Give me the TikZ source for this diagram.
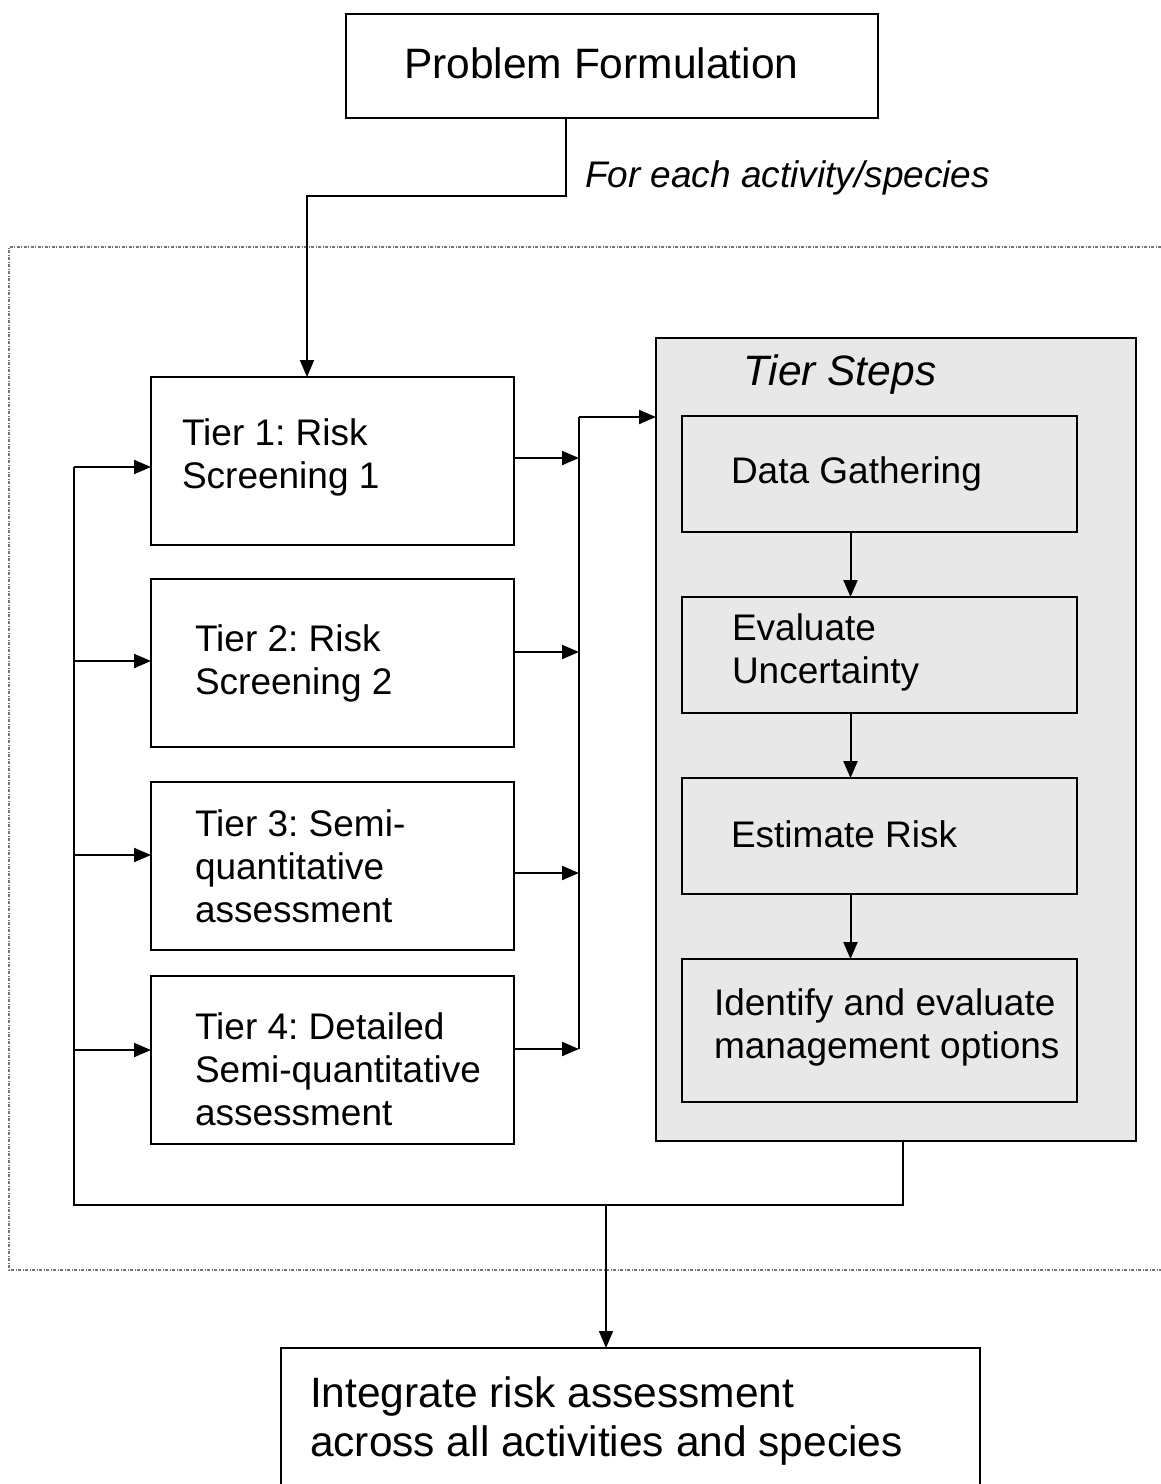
\documentclass[tikz,border=0pt]{standalone}
\usepackage{fontspec}
\setmainfont{Liberation Sans}
\usepackage{xcolor}
\usepackage{tikz}
\usetikzlibrary{arrows.meta}
\usetikzlibrary{positioning}
\definecolor{stepfill}{RGB}{232,232,232}
\frenchspacing

\begin{document}
\begin{tikzpicture}[
    x=1pt,y=-1pt, % one unit is one pixel of the original, y points down
    outer sep=0pt,node distance=0pt,
    mybox/.style={draw,line width=2pt,rectangle,inner sep=0pt},
    tierbox/.style={mybox,minimum width=363pt,minimum height=168pt},
    stepbox/.style={mybox,fill=stepfill,minimum width=395pt,minimum height=116pt},
    txt/.style={align=left,inner sep=0pt,font=\fontsize{37}{43}\selectfont},
    bigtxt/.style={align=left,inner sep=0pt,font=\fontsize{42.5}{49}\selectfont},
    wire/.style={line width=2pt},
    link/.style={wire,-{Triangle[length=17pt,width=14pt]}},
    ]
    \useasboundingbox (0,0) rectangle (1161,1484);

    % dash-dot frame, open on the right
    \draw [black!55,line width=1.2pt,dash pattern=on 3pt off 1.5pt on 1pt off 1.5pt]
        (1175,247) -- (9,247) -- (9,1270) -- (1175,1270);

    \node (problem)    [mybox,minimum width=532pt,minimum height=104pt] at (612,66) {};
    \node (problemtxt) [bigtxt,right=58pt of problem.west,yshift=3pt] {Problem Formulation};

    \node (tier1) [tierbox] at (332.5,461) {};
    \node (tier2) [tierbox,below=34pt of tier1] {};
    \node (tier3) [tierbox,below=35pt of tier2] {};
    \node (tier4) [tierbox,below=26pt of tier3] {};
    \node (tier1txt) [txt,right=31pt of tier1.west,yshift=4pt]  {Tier 1: Risk\\Screening 1};
    \node (tier2txt) [txt,right=44pt of tier2.west]             {Tier 2: Risk\\Screening 2};
    \node (tier3txt) [txt,right=44pt of tier3.west]             {Tier 3: Semi-\\quantitative\\assessment};
    \node (tier4txt) [txt,right=44pt of tier4.west,yshift=-9pt] {Tier 4: Detailed\\Semi-quantitative\\assessment};

    \node (steps) [mybox,fill=stepfill,minimum width=480pt,minimum height=803pt] at (896,739.5) {};
    \node (stepstitle) [bigtxt,font=\fontsize{42.5}{49}\selectfont\itshape,anchor=base west]
        at ([xshift=87pt,yshift=-47pt]steps.north west) {Tier Steps};

    \node (data)   [stepbox] at (879.5,474) {};
    \node (uncert) [stepbox,below=65pt of data] {};
    \node (estim)  [stepbox,below=65pt of uncert] {};
    \node (manage) [stepbox,minimum height=143pt,below=65pt of estim] {};
    \node (datatxt)   [txt,right=49pt of data.west]               {Data Gathering};
    \node (uncerttxt) [txt,right=50pt of uncert.west,yshift=3pt]  {Evaluate\\Uncertainty};
    \node (estimtxt)  [txt,right=49pt of estim.west,yshift=2pt]   {Estimate Risk};
    \node (managetxt) [txt,right=32pt of manage.west,yshift=3pt]  {Identify and evaluate\\management options};

    \node (integrate) [mybox,minimum width=699pt,minimum height=170pt] at (630.5,1433) {};
    \node (integratetxt) [bigtxt,anchor=north west] at ([xshift=29pt,yshift=-29pt]integrate.north west)
        {Integrate risk assessment\\across all activities and species};

    % problem -> tier 1
    \coordinate (fork) at (566,196);
    \draw [link] (problem.south -| fork) -- (fork) -| ([xshift=-25.5pt]tier1.north);
    \node (foreach) [txt,font=\fontsize{37}{43}\selectfont\itshape,anchor=base west] at (585,187) {For each activity/species};

    % feedback loop back into the tiers
    \coordinate (loop) at (74,1205);
    \draw [wire] ([xshift=7pt]steps.south) |- (loop) -- ([yshift=-6pt]tier1.west -| loop);
    \draw [link] ([yshift=-6pt]tier1.west -| loop) -- ([yshift=-6pt]tier1.west);
    \draw [link] ([yshift=2pt]tier2.west -| loop)  -- ([yshift=2pt]tier2.west);
    \draw [link] ([yshift=11pt]tier3.west -| loop) -- ([yshift=11pt]tier3.west);
    \draw [link] ([yshift=10pt]tier4.west -| loop) -- ([yshift=10pt]tier4.west);

    % tiers -> tier steps
    \coordinate (collect) at (579,417);
    \draw [link] ([yshift=3pt]tier1.east)  -- ([yshift=3pt]tier1.east -| collect);
    \draw [link] ([yshift=11pt]tier2.east) -- ([yshift=11pt]tier2.east -| collect);
    \draw [link] ([yshift=-7pt]tier3.east) -- ([yshift=-7pt]tier3.east -| collect);
    \draw [link] ([yshift=11pt]tier4.east) -- ([yshift=11pt]tier4.east -| collect);
    \draw [wire] ([yshift=11pt]tier4.east -| collect) -- (collect);
    \draw [link] (collect) -- (collect -| steps.west);

    \draw [link] ([xshift=-29pt]data.south)   -- ([xshift=-29pt]uncert.north);
    \draw [link] ([xshift=-29pt]uncert.south) -- ([xshift=-29pt]estim.north);
    \draw [link] ([xshift=-29pt]estim.south)  -- ([xshift=-29pt]manage.north);

    % out to the integration step
    \draw [link,line width=1.5pt] ([xshift=-24.5pt]integrate.north |- loop) -- ([xshift=-24.5pt]integrate.north);
\end{tikzpicture}
\end{document}
